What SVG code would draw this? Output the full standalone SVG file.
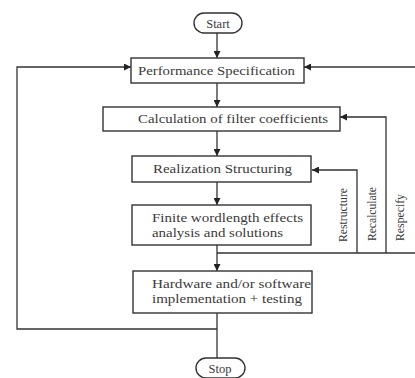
<svg xmlns="http://www.w3.org/2000/svg" width="415" height="378" viewBox="0 0 415 378">
<defs>
<marker id="ah" viewBox="0 0 10 10" refX="10" refY="5" markerWidth="7" markerHeight="7" markerUnits="userSpaceOnUse" orient="auto">
<path d="M0,0 L10,5 L0,10 z" fill="#222"/>
</marker>
<style>
.box{fill:#fff;stroke:#333;stroke-width:1.4}
.ln{fill:none;stroke:#333;stroke-width:1.3}
.t{font-family:"Liberation Serif","Times New Roman",serif;font-size:12.5px;fill:#3a3a3a}
</style>
</defs>
<rect width="415" height="378" fill="#fff"/>
<g id="connectors">
<line class="ln" x1="217" y1="33" x2="217" y2="58" marker-end="url(#ah)"/>
<line class="ln" x1="217" y1="83" x2="217" y2="107" marker-end="url(#ah)"/>
<line class="ln" x1="217" y1="131" x2="217" y2="156" marker-end="url(#ah)"/>
<line class="ln" x1="217" y1="182" x2="217" y2="205" marker-end="url(#ah)"/>
<line class="ln" x1="217" y1="245" x2="217" y2="271" marker-end="url(#ah)"/>
<line class="ln" x1="217" y1="313" x2="217" y2="358"/>
<polyline class="ln" points="217,329 17,329 17,67 131,67" marker-end="url(#ah)"/>
<line class="ln" x1="217" y1="253" x2="420" y2="253"/>
<line class="ln" x1="420" y1="67" x2="304" y2="67" marker-end="url(#ah)"/>
<polyline class="ln" points="386,253 386,117 340,117" marker-end="url(#ah)"/>
<polyline class="ln" points="357,253 357,170 312,170" marker-end="url(#ah)"/>
</g>
<g id="start">
<rect class="box" x="194" y="13" width="48" height="20" rx="10"/>
<text class="t" x="218" y="27.5" text-anchor="middle">Start</text>
</g>
<g id="perf">
<rect class="box" x="131" y="58" width="173" height="25"/>
<text class="t" x="138" y="75" textLength="157" lengthAdjust="spacingAndGlyphs">Performance Specification</text>
</g>
<g id="calc">
<rect class="box" x="103" y="107" width="237" height="24"/>
<text class="t" x="138" y="123" textLength="190" lengthAdjust="spacingAndGlyphs">Calculation of filter coefficients</text>
</g>
<g id="real">
<rect class="box" x="132" y="156" width="179" height="26"/>
<text class="t" x="153" y="173" textLength="139" lengthAdjust="spacingAndGlyphs">Realization Structuring</text>
</g>
<g id="finite">
<rect class="box" x="132" y="205" width="179" height="40"/>
<text class="t" x="152" y="222" textLength="151" lengthAdjust="spacingAndGlyphs">Finite wordlength effects</text>
<text class="t" x="152" y="237" textLength="131" lengthAdjust="spacingAndGlyphs">analysis and solutions</text>
</g>
<g id="hw">
<rect class="box" x="133" y="271" width="179" height="42"/>
<text class="t" x="152" y="288" textLength="159" lengthAdjust="spacingAndGlyphs">Hardware and/or software</text>
<text class="t" x="152" y="303" textLength="150" lengthAdjust="spacingAndGlyphs">implementation + testing</text>
</g>
<g id="stop">
<rect class="box" x="196" y="358" width="49" height="20" rx="10"/>
<text class="t" x="220" y="372.5" text-anchor="middle">Stop</text>
</g>
<g id="labels">
<text class="t" transform="translate(347,242) rotate(-90)" textLength="54" lengthAdjust="spacingAndGlyphs">Restructure</text>
<text class="t" transform="translate(376,241) rotate(-90)" textLength="54" lengthAdjust="spacingAndGlyphs">Recalculate</text>
<text class="t" transform="translate(404,241) rotate(-90)" textLength="47" lengthAdjust="spacingAndGlyphs">Respecify</text>
</g>
</svg>
